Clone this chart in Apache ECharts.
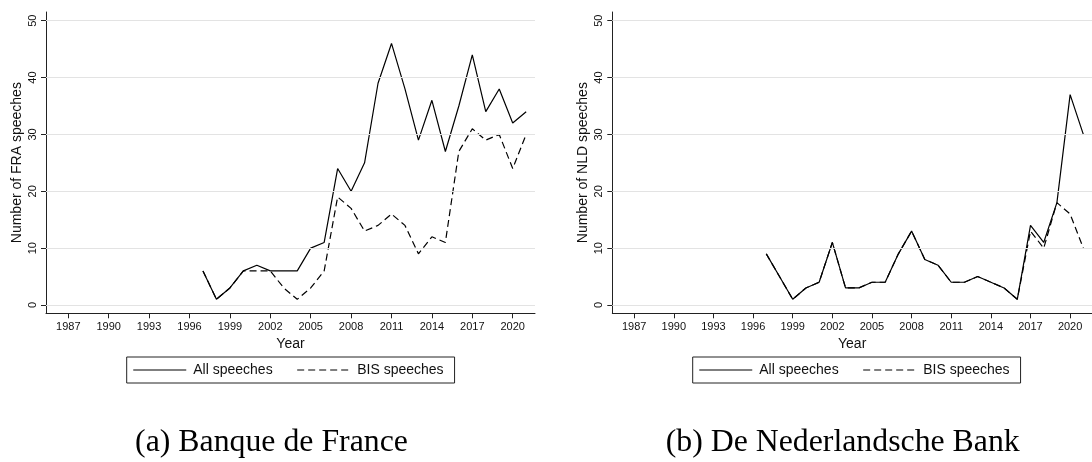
<!DOCTYPE html>
<html>
<head>
<meta charset="utf-8">
<script src="https://cdn.jsdelivr.net/npm/echarts@6/dist/echarts.min.js"></script>
<style>
html,body{margin:0;padding:0;background:#fff;}
#c{width:1092px;height:462px;}
</style>
</head>
<body>
<div id="c"></div>
<script>
// ---- data ----
const years = [1997,1998,1999,2000,2001,2002,2003,2004,2005,2006,2007,2008,2009,2010,2011,2012,2013,2014,2015,2016,2017,2018,2019,2020,2021];
const fraAll = [6,1,3,6,7,6,6,6,10,11,24,20,25,39,46,38,29,36,27,35,44,34,38,32,34];
const fraBis = [6,1,3,6,6,6,3,1,3,6,19,17,13,14,16,14,9,12,11,27,31,29,30,24,30];
const nldAll = [9,5,1,3,4,11,3,3,4,4,9,13,8,7,4,4,5,4,3,1,14,11,18,37,30];
const nldBis = [9,5,1,3,4,11,3,3,4,4,9,13,8,7,4,4,5,4,3,1,13,10,18,16,10];
const xTicks = [1987,1990,1993,1996,1999,2002,2005,2008,2011,2014,2017,2020];
const yTicks = [0,10,20,30,40,50];
const seriesNames = ['All speeches','BIS speeches'];
const yTitles = ['Number of FRA speeches','Number of NLD speeches'];
const captions = ['(a) Banque de France','(b) De Nederlandsche Bank'];

const pairs = (vals) => years.map((y,i)=>[y, vals[i]]);

const X_MIN = 1985.344, X_MAX = 2021.656;
const Y_MIN = -1.46, Y_MAX = 51.53;
const gridLefts = [46, 612.3];
const GW = 489;

function xAxisFor(i){
  return {
    type:'value', gridIndex:i, min:X_MIN, max:X_MAX,
    name:'Year', nameLocation:'middle', nameGap:17,
    nameTextStyle:{fontFamily:'Liberation Sans', fontSize:14, color:'#111'},
    axisLine:{show:true, onZero:false, lineStyle:{color:'#222', width:1}},
    axisTick:{show:true, length:5, customValues:xTicks, lineStyle:{color:'#222', width:1}},
    axisLabel:{customValues:xTicks, formatter:(v)=>String(v), margin:8,
      fontFamily:'Liberation Sans', fontSize:11, color:'#111'},
    splitLine:{show:false}
  };
}
function yAxisFor(i){
  return {
    type:'value', gridIndex:i, min:Y_MIN, max:Y_MAX,
    name:yTitles[i], nameLocation:'middle', nameGap:22,
    nameTextStyle:{fontFamily:'Liberation Sans', fontSize:14, color:'#111'},
    axisLine:{show:true, onZero:false, lineStyle:{color:'#222', width:1}},
    axisTick:{show:true, length:5, customValues:yTicks, lineStyle:{color:'#222', width:1}},
    axisLabel:{customValues:yTicks, rotate:90, margin:8,
      fontFamily:'Liberation Sans', fontSize:11, color:'#111'},
    splitLine:{show:false}
  };
}
function gridLines(){
  return {
    silent:true, symbol:'none', label:{show:false},
    lineStyle:{color:'#e3e3e3', width:1.2, type:'solid'},
    data: yTicks.map(v=>({yAxis:v}))
  };
}
function lineSeries(i, name, vals, dashed, withGrid){
  const s = {
    type:'line', name:name, xAxisIndex:i, yAxisIndex:i,
    data:pairs(vals), symbol:'none', showSymbol:false,
    itemStyle:{color:'#000'},
    lineStyle:{color:'#000', width:1.2, type: dashed ? [7,4] : 'solid'},
    z: dashed ? 2 : 3, animation:false
  };
  if (withGrid) s.markLine = gridLines();
  return s;
}

const legendLefts = [126.7, 692.7];

const option = {
  backgroundColor:'#fff',
  animation:false,
  grid:[
    {left:gridLefts[0], top:12, width:GW, height:301.3},
    {left:gridLefts[1], top:12, width:GW, height:301.3}
  ],
  xAxis:[xAxisFor(0), xAxisFor(1)],
  yAxis:[yAxisFor(0), yAxisFor(1)],
  legend:[0,1].map(i=>({
    left:legendLefts[i], top:357,
    data:seriesNames, orient:'horizontal',
    itemWidth:53, itemHeight:14, itemGap:24,
    padding:[6,11,6,6],
    borderColor:'#222', borderWidth:1,
    selectedMode:false,
    itemStyle:{opacity:0},
    lineStyle:{width:1.1},
    textStyle:{fontFamily:'Liberation Sans', fontSize:14, color:'#111', padding:[0,0,0,2]}
  })),
  series:[
    lineSeries(0, seriesNames[1], fraBis, true, true),
    lineSeries(0, seriesNames[0], fraAll, false, false),
    lineSeries(1, seriesNames[1], nldBis, true, true),
    lineSeries(1, seriesNames[0], nldAll, false, false)
  ],
  graphic:[
    {type:'text', x:271.5, y:443, style:{text:captions[0], font:'31.8px "Liberation Serif"', fill:'#000', textAlign:'center', textVerticalAlign:'middle'}},
    {type:'text', x:842.7, y:443, style:{text:captions[1], font:'31.8px "Liberation Serif"', fill:'#000', textAlign:'center', textVerticalAlign:'middle'}}
  ]
};
const chart = echarts.init(document.getElementById('c'), null, {renderer:'canvas'});
chart.setOption(option);
</script>
</body>
</html>
